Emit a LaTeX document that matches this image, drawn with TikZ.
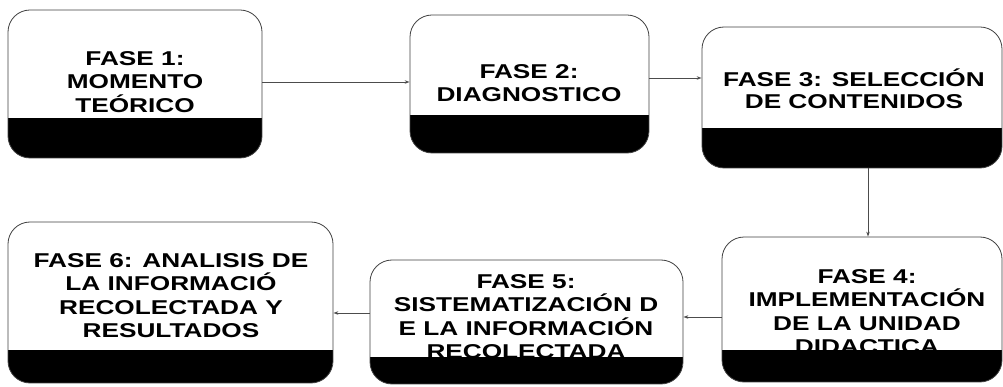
\documentclass[tikz,border=0pt]{standalone}
\usepackage{fontspec}
\newfontfamily\phasefont[FakeStretch=1.31]{Liberation Sans}
\usetikzlibrary{arrows.meta,calc}
\tikzset{
  phasebox/.style={draw=black!75, line width=0.8pt, rounded corners=22pt, fill=white,
    inner sep=0pt,
    path picture={\fill[black, sharp corners] (path picture bounding box.south west) rectangle ([yshift=#1]path picture bounding box.south east);}},
  phasetext/.style={anchor=north, inner sep=0pt, align=center, text=black,
    font=\phasefont\bfseries\fontsize{20}{23.5}\selectfont},
  arr/.style={draw=black!70, line width=0.8pt, -{Stealth[length=5pt,width=3.5pt]}}
}
\begin{document}
\begin{tikzpicture}[x=1pt,y=-1pt]
\useasboundingbox (0,0) rectangle (1003,387);
% boxes
\node[phasebox=40pt, minimum width=254pt, minimum height=148pt] (b1) at (135,84) {};
\node[phasebox=38pt, minimum width=239pt, minimum height=138pt] (b2) at (529.5,84) {};
\node[phasebox=40pt, minimum width=300pt, minimum height=141pt] (b3) at (852,97.5) {};
\node[phasebox=32pt, minimum width=280pt, minimum height=145pt] (b4) at (862,309.5) {};
\node[phasebox=27pt, minimum width=313pt, minimum height=124pt] (b5) at (526.5,322) {};
\node[phasebox=33pt, minimum width=325pt, minimum height=161pt] (b6) at (170.5,302.5) {};
% texts
\node[phasetext] (t1) at (135,51) {FASE 1:\\MOMENTO\\TEÓRICO};
\node[phasetext] (t2) at (529,64) {FASE 2:\\DIAGNOSTICO};
\node[phasetext, font=\phasefont\bfseries\fontsize{20}{22}\selectfont] (t3) at (854,69) {FASE 3: SELECCIÓN\\DE CONTENIDOS};
\node[phasetext] (t4) at (867,269) {FASE 4:\\IMPLEMENTACIÓN\\DE LA UNIDAD\\DIDACTICA};
\node[phasetext] (t5) at (526,274) {FASE 5:\\SISTEMATIZACIÓN D\\E LA INFORMACIÓN\\RECOLECTADA};
\node[phasetext] (t6) at (171,253) {FASE 6: ANALISIS DE\\LA INFORMACIÓ\\RECOLECTADA Y\\RESULTADOS};
% connectors
\draw[arr] ([yshift=2pt]b1.east) -- ([yshift=2pt]b1.east -| b2.west);
\draw[arr] ([yshift=6pt]b2.east) -- ([yshift=6pt]b2.east -| b3.west);
\draw[arr] ([xshift=16pt]b3.south) -- ([xshift=16pt]b3.south |- b4.north);
\draw[arr] ([yshift=-7.5pt]b4.west) -- ([yshift=-7.5pt]b4.west -| b5.east);
\draw[arr] ([yshift=9pt]b5.west) -- ([yshift=9pt]b5.west -| b6.east);
\end{tikzpicture}
\end{document}
